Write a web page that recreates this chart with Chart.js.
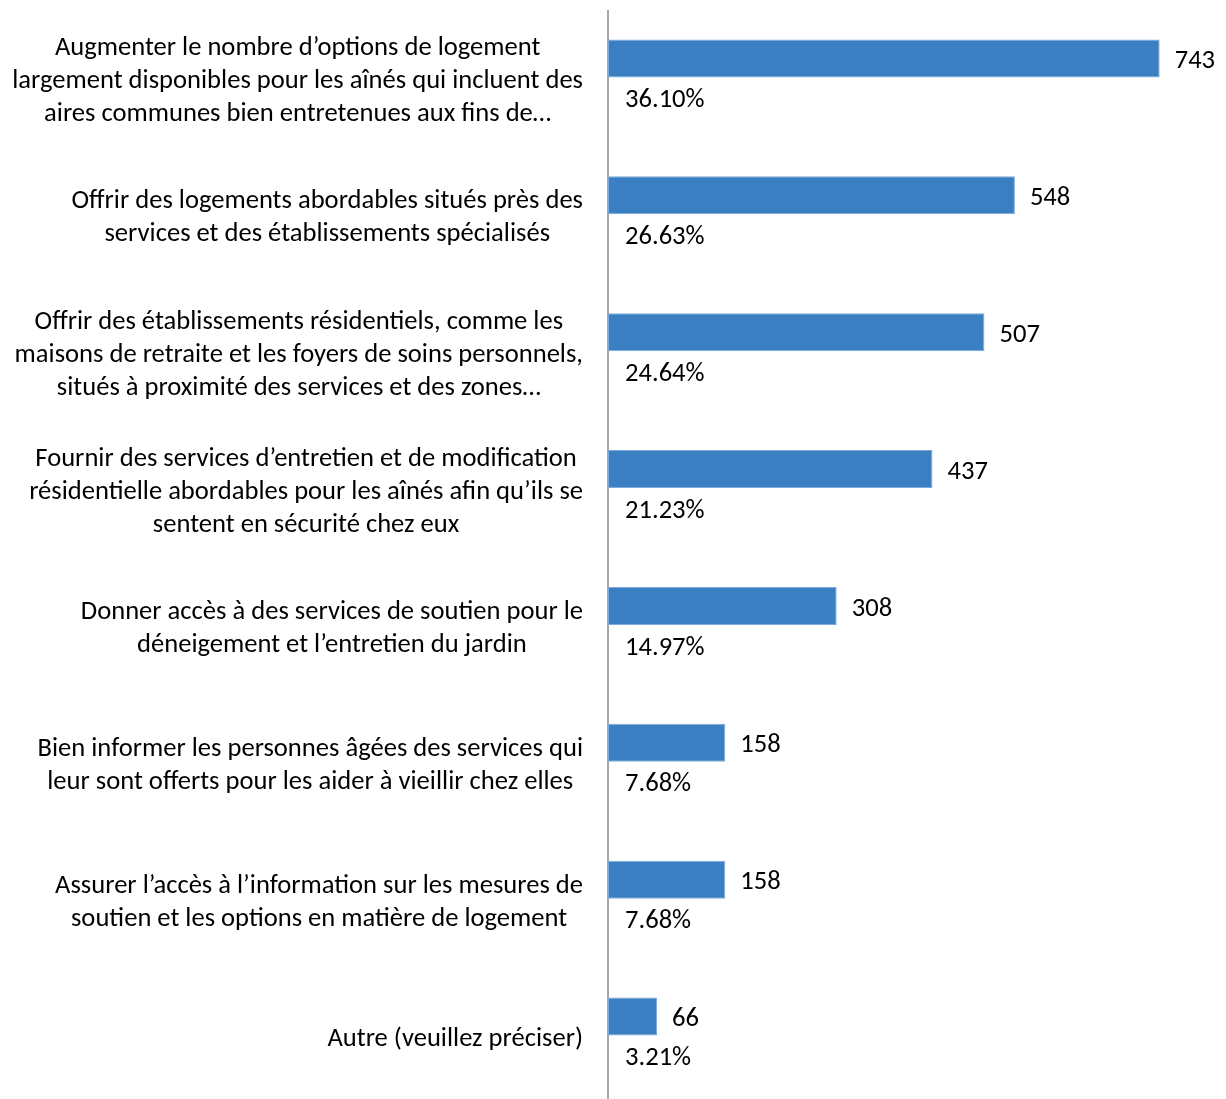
<!DOCTYPE html>
<html>
<head>
<meta charset="utf-8">
<script src="https://cdn.jsdelivr.net/npm/chart.js@4/dist/chart.umd.min.js"></script>
<style>
  html, body { margin: 0; padding: 0; background: #fff; overflow: hidden; }
  #wrap { position: relative; width: 1226px; height: 1106px; }
</style>
</head>
<body>
<div id="wrap"><canvas id="c"></canvas></div>
<script>
const categories = [
  ["Augmenter le nombre d’options de logement", "largement disponibles pour les aînés qui incluent des", "aires communes bien entretenues aux fins de…"],
  ["Offrir des logements abordables situés près des", "services et des établissements spécialisés"],
  ["Offrir des établissements résidentiels, comme les", "maisons de retraite et les foyers de soins personnels,", "situés à proximité des services et des zones…"],
  ["Fournir des services d’entretien et de modification", "résidentielle abordables pour les aînés afin qu’ils se", "sentent en sécurité chez eux"],
  ["Donner accès à des services de soutien pour le", "déneigement et l’entretien du jardin"],
  ["Bien informer les personnes âgées des services qui", "leur sont offerts pour les aider à vieillir chez elles"],
  ["Assurer l’accès à l’information sur les mesures de", "soutien et les options en matière de logement"],
  ["Autre (veuillez préciser)"]
];
const counts = [743, 548, 507, 437, 308, 158, 158, 66];
const percents = [36.10, 26.63, 24.64, 21.23, 14.97, 7.68, 7.68, 3.21];
const percentLabels = ["36.10%", "26.63%", "24.64%", "21.23%", "14.97%", "7.68%", "7.68%", "3.21%"];

const FONT = "Carlito, Lato, 'Open Sans', sans-serif";
const TEXT_COLOR = "#000000";
const REF_LINE = "largement disponibles pour les aînés qui incluent des";
const REF_WIDTH = 571;

function fittedSize(ctx) {
  ctx.save();
  ctx.font = "20px " + FONT;
  const w = ctx.measureText(REF_LINE).width;
  ctx.restore();
  return 20 * REF_WIDTH / w;
}

const labelPlugin = {
  id: 'customLabels',
  afterDraw(chart) {
    const ctx = chart.ctx;
    const yScale = chart.scales.y;
    const m0 = chart.getDatasetMeta(0);
    const m1 = chart.getDatasetMeta(1);
    const size = fittedSize(ctx);
    ctx.save();
    ctx.font = size.toFixed(2) + "px " + FONT;
    ctx.fillStyle = TEXT_COLOR;
    ctx.textBaseline = 'middle';
    const blockRight = 583;
    const lineH = 33;
    categories.forEach((lines, i) => {
      const cy = yScale.getPixelForValue(i) + 2;
      const w = Math.max(...lines.map(l => ctx.measureText(l).width));
      const cx = blockRight - w / 2;
      ctx.textAlign = 'center';
      lines.forEach((l, k) => {
        const y = cy + (k - (lines.length - 1) / 2) * lineH;
        ctx.fillText(l, cx, y);
      });
    });
    ctx.textAlign = 'left';
    m0.data.forEach((el, i) => {
      ctx.fillText(String(counts[i]), el.x + 15, el.y + 3);
    });
    m1.data.forEach((el, i) => {
      ctx.fillText(percentLabels[i], chart.chartArea.left + 17, el.y);
    });
    ctx.restore();
  }
};

new Chart(document.getElementById('c'), {
  type: 'bar',
  data: {
    labels: categories,
    datasets: [
      {
        data: counts,
        backgroundColor: '#3a7fc1',
        borderColor: '#7eaadb',
        borderWidth: 1,
        borderSkipped: false,
        categoryPercentage: 0.614,
        barPercentage: 0.905
      },
      {
        data: percents,
        backgroundColor: 'rgba(0,0,0,0)',
        borderWidth: 0,
        categoryPercentage: 0.614,
        barPercentage: 0.905
      }
    ]
  },
  options: {
    indexAxis: 'y',
    responsive: true,
    maintainAspectRatio: false,
    animation: false,
    layout: { padding: { top: 11, right: 24, bottom: 0, left: 0 } },
    plugins: { legend: { display: false }, tooltip: { enabled: false } },
    scales: {
      x: { display: false, min: 0, max: 800 },
      y: {
        ticks: { display: false },
        grid: { display: false },
        border: { display: true, color: '#a6a6a6', width: 2 },
        afterFit(scale) { scale.width = 608; }
      }
    }
  },
  plugins: [labelPlugin]
});
</script>
</body>
</html>
